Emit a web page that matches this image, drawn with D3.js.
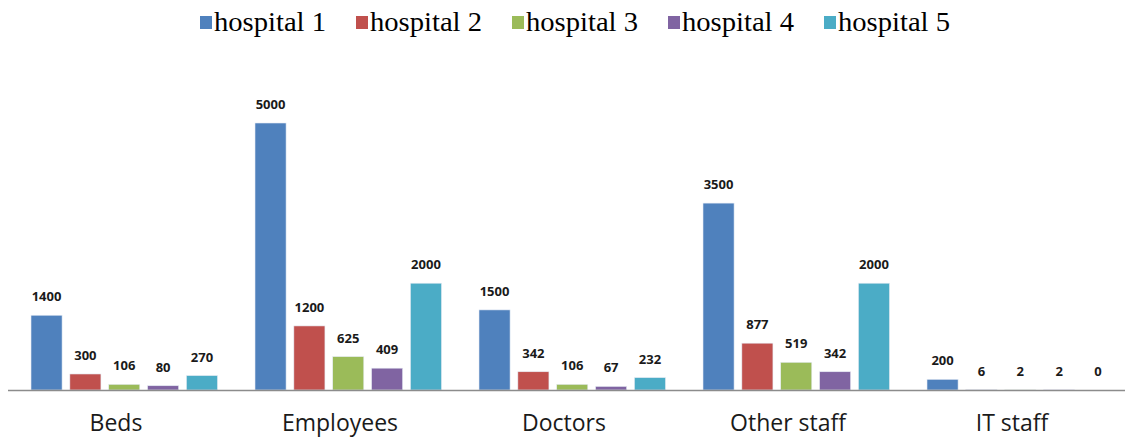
<!DOCTYPE html>
<html>
<head>
<meta charset="utf-8">
<script src="https://cdn.jsdelivr.net/npm/d3@7"></script>
<style>
  body { margin: 0; background: #fff; }
</style>
</head>
<body>
<div id="chart"></div>
<script>
// data
var categories = ["Beds", "Employees", "Doctors", "Other staff", "IT staff"];
var hospitals = ["hospital 1", "hospital 2", "hospital 3", "hospital 4", "hospital 5"];
var hospital1 = [1400, 5000, 1500, 3500, 200];
var hospital2 = [300, 1200, 342, 877, 6];
var hospital3 = [106, 625, 106, 519, 2];
var hospital4 = [80, 409, 67, 342, 2];
var hospital5 = [270, 2000, 232, 2000, 0];
var colors = ["#4F81BD", "#C0504D", "#9BBB59", "#8064A2", "#4BACC6"];

var series = [hospital1, hospital2, hospital3, hospital4, hospital5];

var width = 1125, height = 437;
var baseline = 390;

var svg = d3.select("#chart").append("svg")
    .attr("width", width)
    .attr("height", height);

// scales
var x0 = d3.scaleBand()
    .domain(categories)
    .range([4, 1124]);

var x1 = d3.scaleBand()
    .domain(hospitals)
    .range([27, 27 + 5 * 37.3])
    .paddingInner(0.2);

var y = d3.scaleLinear()
    .domain([0, 5000])
    .range([baseline, 123]);

// groups per category
var groups = svg.selectAll("g.cat")
    .data(categories)
  .enter().append("g")
    .attr("class", "cat")
    .attr("transform", function(d) { return "translate(" + x0(d) + ",0)"; });

groups.selectAll("rect")
    .data(function(d, i) {
      return hospitals.map(function(h, j) { return {h: h, v: series[j][i], c: colors[j]}; });
    })
  .enter().append("rect")
    .attr("x", function(d) { return x1(d.h); })
    .attr("width", x1.bandwidth())
    .attr("y", function(d) { return y(d.v); })
    .attr("height", function(d) { return baseline - y(d.v); })
    .style("fill", function(d) { return d.c; })
    .style("stroke", "#e6ecf4")
    .style("stroke-width", 0.6);

groups.selectAll("text.val")
    .data(function(d, i) {
      return hospitals.map(function(h, j) { return {h: h, v: series[j][i]}; });
    })
  .enter().append("text")
    .attr("class", "val")
    .attr("x", function(d) { return x1(d.h) + x1.bandwidth() / 2; })
    .attr("y", function(d) { return y(d.v) - 14; })
    .attr("text-anchor", "middle")
    .style("font-family", "'Open Sans', sans-serif")
    .style("font-weight", "bold")
    .style("font-size", "13px")
    .style("fill", "#1a1a1a")
    .text(function(d) { return d.v; });

// x axis
var xAxis = svg.append("g")
    .attr("transform", "translate(0," + baseline + ")")
    .call(d3.axisBottom(x0).tickSize(0).tickPadding(25));
xAxis.select(".domain")
    .attr("d", "M8,0.5H1125")
    .style("stroke", "#8c8c8c")
    .style("stroke-width", 1.5);
xAxis.selectAll("text")
    .style("font-family", "'Open Sans', sans-serif")
    .style("font-size", "23px")
    .style("fill", "#1a1a1a");

// legend
var legend = svg.selectAll("g.legend")
    .data(hospitals)
  .enter().append("g")
    .attr("class", "legend")
    .attr("transform", function(d, i) { return "translate(" + (200 + i * 156) + ",16)"; });

legend.append("rect")
    .attr("width", 12)
    .attr("height", 13)
    .style("fill", function(d, i) { return colors[i]; });

legend.append("text")
    .attr("x", 14)
    .attr("y", 15)
    .attr("textLength", 112)
    .attr("lengthAdjust", "spacingAndGlyphs")
    .style("font-family", "'Liberation Serif', serif")
    .style("font-size", "27px")
    .style("fill", "#000")
    .text(function(d) { return d; });
</script>
</body>
</html>
